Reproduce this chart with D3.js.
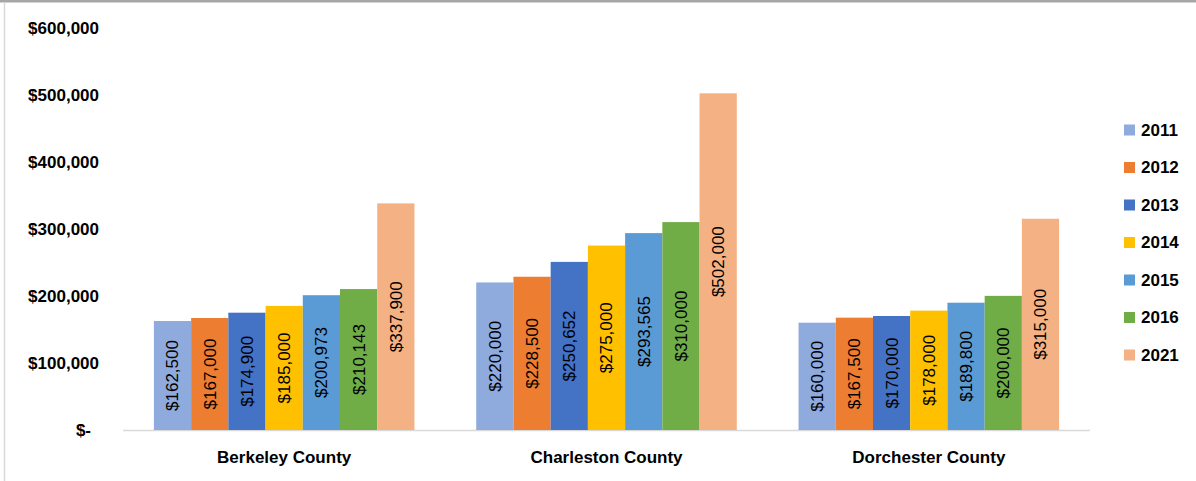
<!DOCTYPE html>
<html>
<head>
<meta charset="utf-8">
<script src="https://cdn.jsdelivr.net/npm/d3@7"></script>
<style>
  html, body { margin: 0; padding: 0; background: #fff; }
  svg { display: block; }
  text { font-family: "Liberation Sans", Arial, sans-serif; }
</style>
</head>
<body>
<svg id="chart" width="1196" height="481"></svg>
<script>
const categories = ["Berkeley County", "Charleston County", "Dorchester County"];
const years = ["2011", "2012", "2013", "2014", "2015", "2016", "2021"];
const colors = ["#8faadc", "#ed7d31", "#4472c4", "#ffc000", "#5b9bd5", "#70ad47", "#f4b183"];
const values2011 = [162500, 220000, 160000];
const values2012 = [167000, 228500, 167500];
const values2013 = [174900, 250652, 170000];
const values2014 = [185000, 275000, 178000];
const values2015 = [200973, 293565, 189800];
const values2016 = [210143, 310000, 200000];
const values2021 = [337900, 502000, 315000];
const yTicks = [0, 100000, 200000, 300000, 400000, 500000, 600000];

const series = [values2011, values2012, values2013, values2014, values2015, values2016, values2021];

const svg = d3.select("#chart");

// frame borders
svg.append("rect").attr("x", 0).attr("y", 0).attr("width", 1196).attr("height", 2.5).attr("fill", "#a6a6a6");
svg.append("line").attr("x1", 4.5).attr("x2", 4.5).attr("y1", 3).attr("y2", 481)
  .attr("stroke", "#d9d9d9").attr("stroke-width", 1.5);

const x0 = d3.scaleBand().domain(categories).range([123, 1090]).paddingInner(0).paddingOuter(0);
const x1 = d3.scaleBand().domain(years).range([0, x0.bandwidth()]).paddingOuter(0.83).paddingInner(0);
const y = d3.scaleLinear().domain([0, 600000]).range([430, 27.6]);

const fmt = d3.format(",");
const money = v => v === 0 ? "$-" : "$" + fmt(v);

// y axis labels
const yAxis = d3.axisLeft(y).tickValues(yTicks).tickFormat(money).tickSize(0).tickPadding(0);
const yg = svg.append("g").attr("transform", "translate(99,0)").call(yAxis);
yg.select(".domain").remove();
yg.selectAll("text")
  .attr("font-family", "Liberation Sans, Arial, sans-serif")
  .attr("font-size", 17).attr("font-weight", "bold").attr("fill", "#000")
  .attr("x", d => d === 0 ? -8 : 0);

// baseline
svg.append("line").attr("x1", 123).attr("x2", 1090).attr("y1", y(0) + 0.5).attr("y2", y(0) + 0.5)
  .attr("stroke", "#d9d9d9").attr("stroke-width", 1.5);

// bars
const groups = svg.append("g").selectAll("g").data(categories).join("g")
  .attr("transform", d => `translate(${x0(d)},0)`);

groups.each(function(cat, ci) {
  const g = d3.select(this);
  const rows = years.map((yr, si) => ({ yr, si, v: series[si][ci] }));
  g.selectAll("rect").data(rows).join("rect")
    .attr("x", d => x1(d.yr))
    .attr("width", x1.bandwidth())
    .attr("y", d => y(d.v))
    .attr("height", d => y(0) - y(d.v))
    .attr("fill", d => colors[d.si]);
  g.selectAll("text.lbl").data(rows).join("text").attr("class", "lbl")
    .attr("transform", d => `translate(${x1(d.yr) + x1.bandwidth() / 2},${(y(d.v) + y(0)) / 2}) rotate(-90)`)
    .attr("text-anchor", "middle").attr("dy", "0.35em")
    .attr("font-size", 17).attr("fill", "#000")
    .text(d => money(d.v));
});

// x axis labels
const xAxis = d3.axisBottom(x0).tickSize(0).tickPadding(0);
const xg = svg.append("g").attr("transform", "translate(0,451)").call(xAxis);
xg.select(".domain").remove();
xg.selectAll("text")
  .attr("font-family", "Liberation Sans, Arial, sans-serif")
  .attr("font-size", 17).attr("font-weight", "bold").attr("fill", "#000");

// legend
const legend = svg.append("g").selectAll("g").data(years).join("g")
  .attr("transform", (d, i) => `translate(1124,${130 + i * 37.5})`);
legend.append("rect").attr("x", 0).attr("y", -5.5).attr("width", 11).attr("height", 11)
  .attr("fill", (d, i) => colors[i]);
legend.append("text").attr("x", 17).attr("dy", "0.35em")
  .attr("font-size", 17).attr("font-weight", "bold").attr("fill", "#000")
  .text(d => d);
</script>
</body>
</html>
